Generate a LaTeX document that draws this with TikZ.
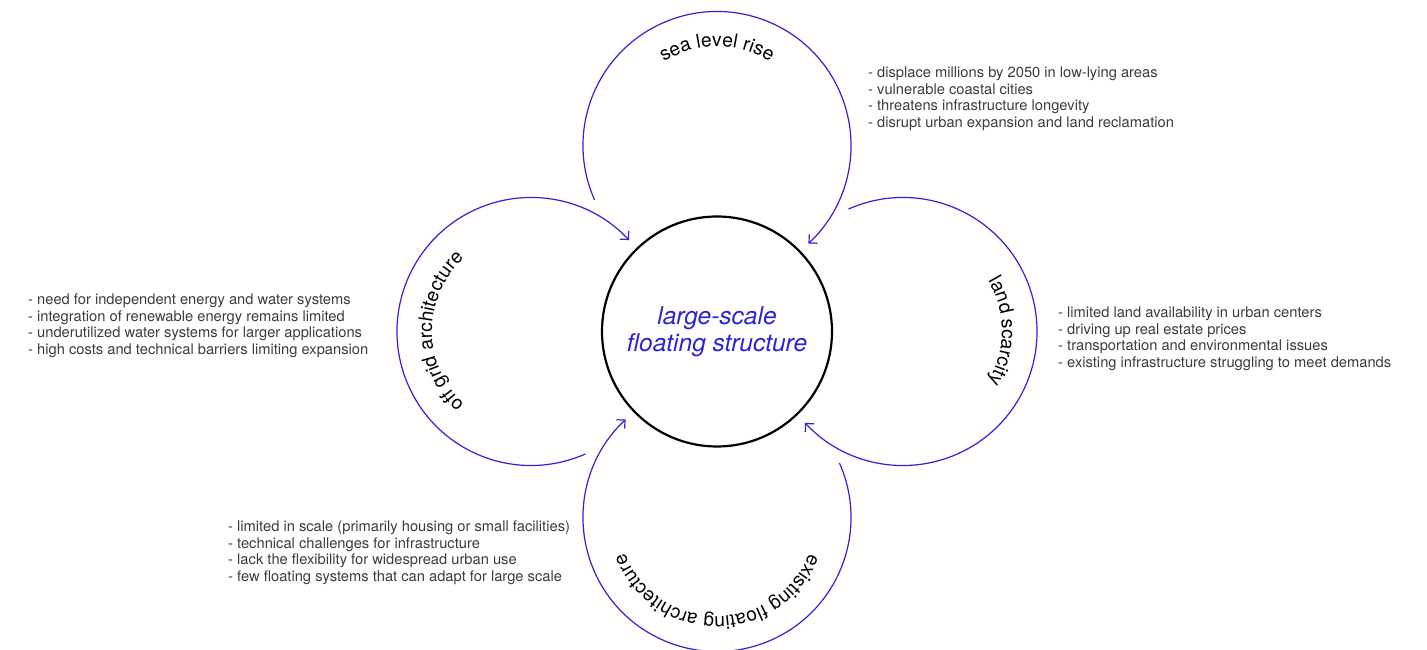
\documentclass[tikz,border=0pt]{standalone}
\usepackage{fontspec}
\setmainfont{TeX Gyre Heros}
\usetikzlibrary{arrows.meta,decorations.text,calc}
\definecolor{flowblue}{RGB}{45,35,215}
\definecolor{notegray}{RGB}{60,60,60}
\newcommand\looplabelfont{\fontsize{19.2}{21}\selectfont}

\begin{document}
\begin{tikzpicture}[x=1pt,y=1pt,
  loop/.style={draw=flowblue, line width=1.2pt, -{Straight Barb[length=6pt,width=12pt]}},
  notes/.style={anchor=north west, inner sep=0pt, align=left, text=notegray,
                font=\fontsize{14.7}{16.5}\selectfont},
  looptext/.style={decorate, decoration={text along path, text align=center,
                   text={|\looplabelfont|#1}}}
]
\useasboundingbox (0,0) rectangle (1427,650);

% central topic
\node[circle, draw=black, line width=2.2pt, minimum size=230pt, inner sep=0pt,
      align=center, text=flowblue, font=\fontsize{24.5}{27}\selectfont\itshape]
      (core) at (717,318.5) {large-scale\\floating structure};

% centres of the four feedback loops
\coordinate (sea)   at (717,504.5);
\coordinate (land)  at (903,318.5);
\coordinate (exist) at (717,132.5);
\coordinate (grid)  at (531,318.5);

% loops, each running clockwise and pointing back at the centre
\draw[loop] ($(sea)+(204:134)$)   arc[start angle=204, end angle=-47,  radius=134];
\draw[loop] ($(land)+(114:134)$)  arc[start angle=114, end angle=-137, radius=134];
\draw[loop] ($(exist)+(24:134)$)  arc[start angle=24,  end angle=-227, radius=134];
\draw[loop] ($(grid)+(-66:134)$)  arc[start angle=-66, end angle=-317, radius=134];

% curved loop labels
\path[looptext={sea level rise}] ($(sea)+(180:99)$) arc[start angle=180, end angle=0, radius=99];
\path[looptext={land scarcity}] ($(land)+(90:99)$) arc[start angle=90, end angle=-90, radius=99];
\path[looptext={existing floating architecture}] ($(exist)+(0:99)$) arc[start angle=0, end angle=-180, radius=99];
\path[looptext={off grid architecture}] ($(grid)+(-90:99)$) arc[start angle=-90, end angle=-270, radius=99];

% notes
\node[notes] (seanotes) at (868,583) {- displace millions by 2050 in low-lying areas\\
- vulnerable coastal cities\\
- threatens infrastructure longevity\\
- disrupt urban expansion and land reclamation};

\node[notes] (gridnotes) at (28,356) {- need for independent energy and water systems\\
- integration of renewable energy remains limited\\
- underutilized water systems for larger applications\\
- high costs and technical barriers limiting expansion};

\node[notes] (landnotes) at (1058,343) {- limited land availability in urban centers\\
- driving up real estate prices\\
- transportation and environmental issues\\
- existing infrastructure struggling to meet demands};

\node[notes] (existnotes) at (228,129) {- limited in scale (primarily housing or small facilities)\\
- technical challenges for infrastructure\\
- lack the flexibility for widespread urban use\\
- few floating systems that can adapt for large scale};
\end{tikzpicture}
\end{document}
